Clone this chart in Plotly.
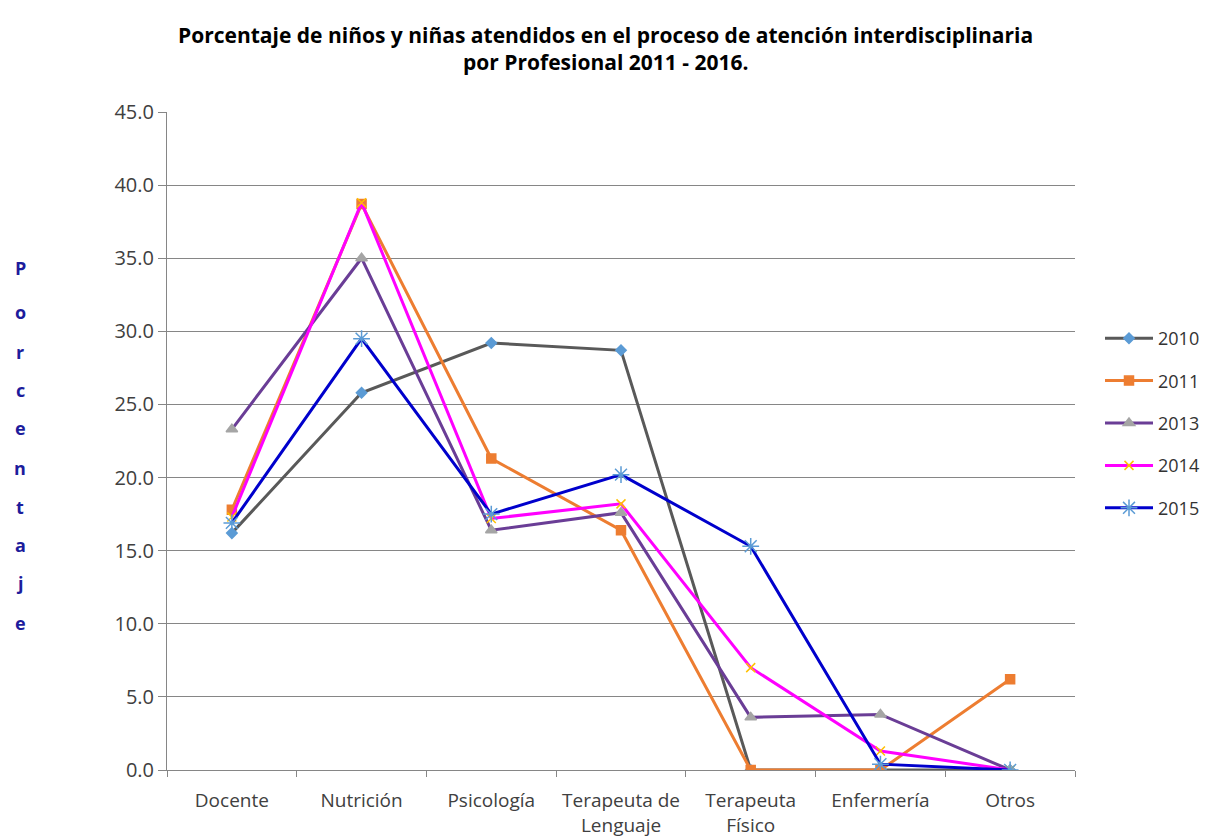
import plotly.graph_objects as go

categories = ["Docente", "Nutrición", "Psicología", "Terapeuta de<br>Lenguaje",
              "Terapeuta<br>Físico", "Enfermería", "Otros"]
years = ["2010", "2011", "2013", "2014", "2015"]
v2010 = [16.2, 25.8, 29.2, 28.7, 0.0, 0.0, 0.0]
v2011 = [17.8, 38.7, 21.3, 16.4, 0.0, 0.0, 6.2]
v2013 = [23.3, 35.0, 16.4, 17.6, 3.6, 3.8, 0.0]
v2014 = [17.3, 38.8, 17.2, 18.2, 7.0, 1.3, 0.0]
v2015 = [16.9, 29.5, 17.5, 20.2, 15.3, 0.4, 0.0]
series = [v2010, v2011, v2013, v2014, v2015]
title_lines = ["Porcentaje de niños y niñas atendidos en el proceso de atención interdisciplinaria",
               "por Profesional 2011 - 2016."]

line_colors = ["#595959", "#ED7D31", "#6A3D96", "#FF00FF", "#0000CC"]
marker_colors = ["#5B9BD5", "#ED7D31", "#A5A5A5", "#FFC000", "#5B9BD5"]
symbols = ["diamond", "square", "triangle-up", "x-thin-open", "asterisk-open"]
msizes = [8, 9, 10, 9, 14]

FONT = "Open Sans, sans-serif"

OFF = 8                   # page adds an 8px body margin
W, H = 1211 - OFF, 839 - OFF
PL, PT = 167 - OFF, 112 - OFF
PR = W - (1075 - OFF)
PB = H - (770 - OFF)
PW = W - PL - PR
PH = H - PT - PB


def py(ref_y):
    """reference screenshot pixel y -> paper fraction"""
    return (H - PB - (ref_y - OFF)) / PH


def px(ref_x):
    return (ref_x - OFF - PL) / PW


fig = go.Figure()
for i, (name, vals) in enumerate(zip(years, series)):
    fig.add_trace(go.Scatter(
        x=categories, y=vals, name=name, mode="lines+markers",
        line=dict(color=line_colors[i], width=3),
        marker=dict(symbol=symbols[i], size=msizes[i], color=marker_colors[i],
                    line=dict(color=marker_colors[i], width=1.5)),
        legendgroup=name,
    ))

fig.update_layout(
    width=W, height=H,
    paper_bgcolor="white", plot_bgcolor="white",
    margin=dict(l=PL, r=PR, t=PT, b=PB, autoexpand=False),
    font=dict(family=FONT, size=16, color="#404040"),
    showlegend=True,
    legend=dict(x=px(1100), xanchor="left", y=py(320), yanchor="top",
                font=dict(size=18, color="#333333"),
                itemwidth=48,
                tracegroupgap=16, bgcolor="rgba(0,0,0,0)"),
)

for line, yc in zip(title_lines, [35, 62]):
    fig.add_annotation(
        text=f"<b>{line}</b>", xref="paper", yref="paper",
        x=px(605), y=py(yc), xanchor="center", yanchor="middle",
        showarrow=False, font=dict(family=FONT, size=21, color="#000000"),
    )

fig.update_xaxes(
    type="category", range=[-0.5, 6.5], automargin=False, tickangle=0,
    showline=True, linecolor="#868686", linewidth=1,
    ticks="outside", tickson="boundaries", ticklen=6, tickcolor="#868686",
    ticklabelstandoff=13,
    showgrid=False, tickfont=dict(size=19, color="#404040"),
)
fig.update_yaxes(
    range=[0, 45], dtick=5, tickformat=".1f", automargin=False,
    showline=True, linecolor="#868686", linewidth=1,
    ticks="outside", ticklen=8, tickcolor="#868686",
    showgrid=True, gridcolor="#868686", gridwidth=1,
    zeroline=False, tickfont=dict(size=20, color="#404040"),
)

# vertical stacked axis title (reference pixel centres of each letter)
letters = list("Porcentaje")
y_px = [268, 312, 352, 390, 428, 468, 507, 545, 583, 623]
for ch, yp in zip(letters, y_px):
    fig.add_annotation(
        text=f"<b>{ch}</b>", xref="paper", yref="paper",
        x=px(20), y=py(yp),
        xanchor="center", yanchor="middle", showarrow=False,
        font=dict(family=FONT, size=18, color="#1C1C9C"),
    )

fig.write_html("out.html")
